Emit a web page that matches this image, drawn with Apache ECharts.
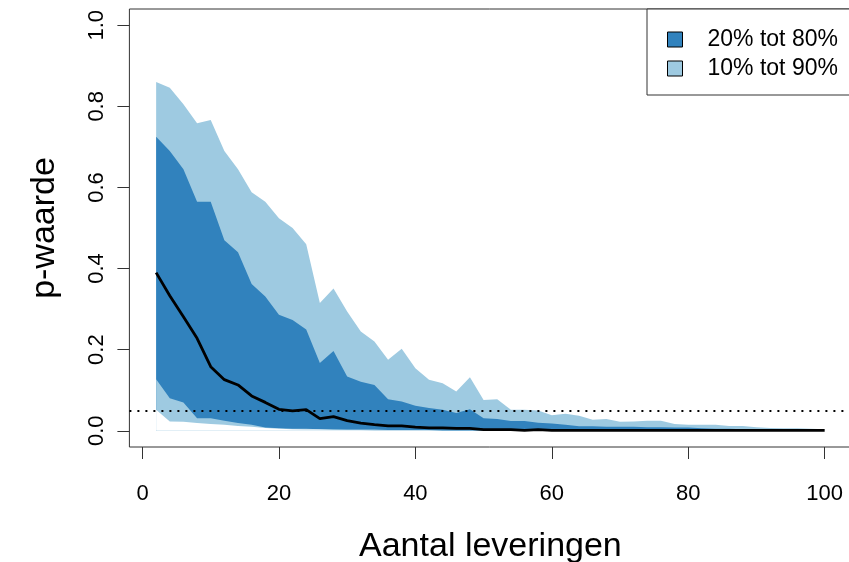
<!DOCTYPE html>
<html>
<head>
<meta charset="utf-8">
<script src="https://cdn.jsdelivr.net/npm/echarts@6/dist/echarts.min.js"></script>
<style>
  html, body { margin: 0; padding: 0; background: #fff; }
  #chart { width: 849px; height: 562px; }
</style>
</head>
<body>
<div id="chart"></div>
<script>
  // aantal leveringen (x)
  var leveringen = [2, 4, 6, 8, 10, 12, 14, 16, 18, 20, 22, 24, 26, 28, 30, 32, 34, 36, 38, 40,
    42, 44, 46, 48, 50, 52, 54, 56, 58, 60, 62, 64, 66, 68, 70, 72, 74, 76, 78, 80,
    82, 84, 86, 88, 90, 92, 94, 96, 98, 100]

  // percentielen van de p-waarde
  var p10 = [0.052, 0.023, 0.022, 0.019, 0.017, 0.015, 0.012, 0.010, 0.007, 0.005, 0.004, 0.003, 0.003, 0.002, 0.002, 0.002, 0.001, 0.001, 0.001, 0.001,
    0.001, 0, 0, 0, 0, 0, 0, 0, 0, 0, 0, 0, 0, 0, 0, 0, 0, 0, 0, 0,
    0, 0, 0, 0, 0, 0, 0, 0, 0, 0]
  var p20 = [0.127, 0.080, 0.070, 0.031, 0.031, 0.025, 0.019, 0.015, 0.008, 0.006, 0.005, 0.005, 0.004, 0.004, 0.003, 0.003, 0.003, 0.002, 0.002, 0.002,
    0.002, 0.001, 0.001, 0.001, 0.001, 0.001, 0.001, 0.001, 0.001, 0.001, 0.001, 0, 0, 0, 0, 0, 0, 0, 0, 0,
    0, 0, 0, 0, 0, 0, 0, 0, 0, 0]
  var mediaan = [0.390, 0.333, 0.281, 0.228, 0.158, 0.126, 0.113, 0.086, 0.070, 0.053, 0.049, 0.052, 0.030, 0.035, 0.025, 0.019, 0.015, 0.012, 0.012, 0.009,
    0.007, 0.007, 0.006, 0.006, 0.003, 0.003, 0.003, 0.001, 0.003, 0.001, 0.001, 0.001, 0.001, 0.001, 0.001, 0.001, 0.001, 0.001, 0.001, 0.001,
    0.001, 0.001, 0.001, 0.001, 0.001, 0.001, 0.001, 0.001, 0.001, 0.001]
  var p80 = [0.725, 0.690, 0.645, 0.565, 0.565, 0.470, 0.440, 0.362, 0.331, 0.286, 0.273, 0.250, 0.167, 0.197, 0.134, 0.121, 0.113, 0.078, 0.072, 0.062,
    0.056, 0.052, 0.044, 0.053, 0.031, 0.029, 0.024, 0.024, 0.020, 0.018, 0.015, 0.011, 0.011, 0.010, 0.010, 0.010, 0.009, 0.009, 0.008, 0.008,
    0.006, 0.005, 0.005, 0.004, 0.004, 0.003, 0.003, 0.003, 0.002, 0.002]
  var p90 = [0.860, 0.846, 0.805, 0.758, 0.766, 0.690, 0.645, 0.588, 0.565, 0.524, 0.500, 0.460, 0.315, 0.351, 0.294, 0.245, 0.220, 0.175, 0.202, 0.154,
    0.126, 0.117, 0.097, 0.132, 0.076, 0.078, 0.052, 0.052, 0.050, 0.038, 0.042, 0.037, 0.027, 0.029, 0.022, 0.023, 0.025, 0.025, 0.017, 0.015,
    0.015, 0.015, 0.012, 0.012, 0.009, 0.007, 0.006, 0.006, 0.005, 0.004]

  var xTicks = [0, 20, 40, 60, 80, 100]
  var yTicks = [0, 0.2, 0.4, 0.6, 0.8, 1.0]
  var grens = 0.05

  var font = 'Liberation Sans, Arial, sans-serif'
  var donker = '#3182bd'
  var licht = '#9ecae1'

  function paren (ys) {
    return leveringen.map(function (x, i) { return [x, ys[i]] })
  }

  // vlak van een rand tot 0; de banden ontstaan door ze over elkaar te leggen
  function vlak (naam, ys, kleur) {
    return {
      name: naam,
      type: 'line',
      data: paren(ys),
      showSymbol: false,
      silent: true,
      itemStyle: { color: kleur },
      lineStyle: { width: 0, opacity: 0 },
      areaStyle: { color: kleur, opacity: 1, origin: 0 }
    }
  }

  var myChart = echarts.init(document.getElementById('chart'), null, { renderer: 'canvas' })

  var option = {
    animation: false,
    backgroundColor: '#fff',
    textStyle: { fontFamily: font },
    grid: {
      left: 129.4,
      top: 9,
      width: 722,
      height: 438,
      outerBoundsMode: 'none',
      containLabel: false,
      show: true,
      borderColor: '#333',
      borderWidth: 1,
      backgroundColor: 'transparent'
    },
    legend: {
      data: ['20% tot 80%', '10% tot 90%'],
      orient: 'vertical',
      left: 647,
      top: 9,
      padding: [19, 16, 15, 20],
      itemWidth: 15,
      itemHeight: 15,
      itemGap: 6,
      icon: 'rect',
      selectedMode: false,
      itemStyle: { borderColor: '#000', borderWidth: 1 },
      textStyle: { fontSize: 23, lineHeight: 23, color: '#000', fontFamily: font, padding: [0, 0, 0, 20] },
      borderColor: '#333',
      borderWidth: 1,
      backgroundColor: '#fff'
    },
    xAxis: {
      type: 'value',
      min: -1.92,
      max: 103.92,
      name: 'Aantal leveringen',
      nameLocation: 'middle',
      nameGap: 83,
      nameTextStyle: { fontSize: 34, color: '#000', fontFamily: font },
      axisLine: { show: false, onZero: false },
      splitLine: { show: false },
      axisTick: { show: true, length: 12, customValues: xTicks, lineStyle: { color: '#333' } },
      axisLabel: { customValues: xTicks, fontSize: 22, color: '#000', margin: 36, fontFamily: font }
    },
    yAxis: {
      type: 'value',
      min: -0.04,
      max: 1.04,
      name: 'p-waarde',
      nameLocation: 'middle',
      nameGap: 68,
      nameRotate: 90,
      nameTextStyle: { fontSize: 34, color: '#000', fontFamily: font },
      axisLine: { show: false, onZero: false },
      splitLine: { show: false },
      axisTick: { show: true, length: 12, customValues: yTicks, lineStyle: { color: '#333' } },
      axisLabel: {
        customValues: yTicks,
        rotate: 90,
        fontSize: 22,
        color: '#000',
        margin: 21,
        fontFamily: font,
        formatter: function (v) { return v.toFixed(1) }
      }
    },
    series: [
      vlak('10% tot 90%', p90, licht),
      vlak('20% tot 80%', p80, donker),
      vlak('onder20', p20, licht),
      vlak('onder10', p10, '#fff'),
      {
        name: 'mediaan',
        type: 'line',
        data: paren(mediaan),
        showSymbol: false,
        silent: true,
        itemStyle: { color: '#000' },
        lineStyle: { color: '#000', width: 2.8 },
        markLine: {
          silent: true,
          symbol: ['none', 'none'],
          label: { show: false },
          lineStyle: { color: '#000', width: 2, type: [2, 6] },
          data: [{ yAxis: grens }]
        }
      }
    ]
  }
  myChart.setOption(option)
</script>
</body>
</html>
